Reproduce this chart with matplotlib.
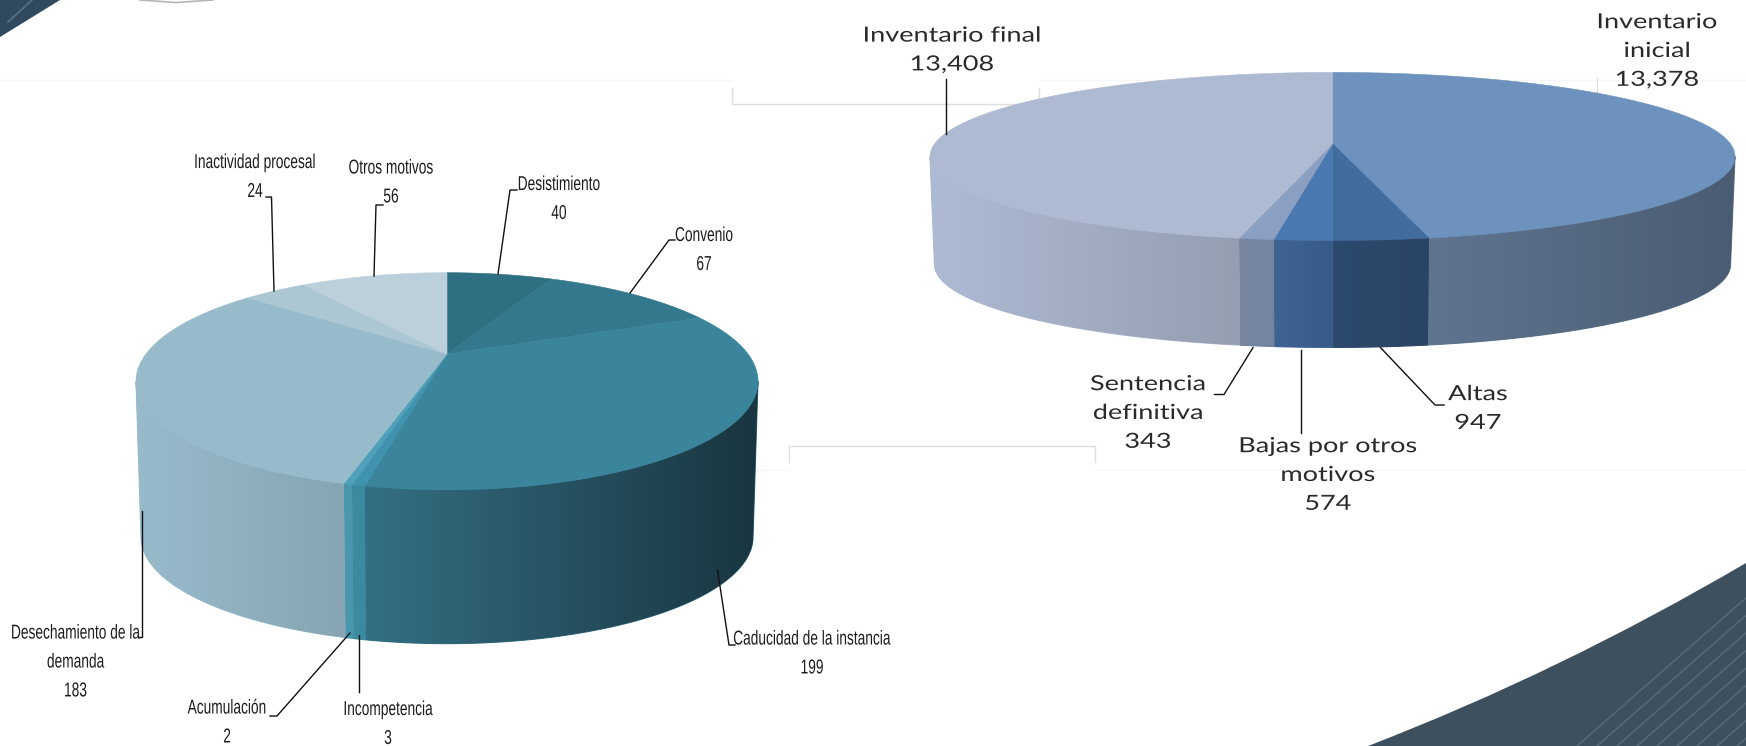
import numpy as np
import matplotlib
matplotlib.use('Agg')
import matplotlib.pyplot as plt
import matplotlib.patheffects as patheffects
from matplotlib.colors import to_rgb
from matplotlib.patches import PathPatch, Polygon
from matplotlib.path import Path
from matplotlib.transforms import Affine2D

# left pie
leftNames = ['Desistimiento', 'Convenio', 'Caducidad de la instancia', 'Incompetencia',
             'Acumulación', 'Desechamiento de la\ndemanda', 'Inactividad procesal', 'Otros motivos']
leftValues = [40, 67, 199, 3, 2, 183, 24, 56]
leftTop = ['#2f6f82', '#33788c', '#3a859c', '#3f93ae', '#4fa0b8', '#98bbcc', '#abc7d3', '#bbd0da']
leftWall = [('#2f6f82', '#2f6f82'), ('#33788c', '#33788c'), ('#346f84', '#193540'),
            ('#3b8aa0', '#3b8aa0'), ('#4a97ad', '#4a97ad'), ('#98bbcc', '#87a5b2'),
            ('#abc7d3', '#abc7d3'), ('#bbd0da', '#bbd0da')]

# right pie
rightNames = ['Inventario\ninicial', 'Altas', 'Bajas por otros\nmotivos', 'Sentencia\ndefinitiva', 'Inventario final']
rightValues = [13378, 947, 574, 343, 13408]
rightTop = ['#6c92bd', '#406c9e', '#4a78b0', '#8a9fc2', '#aebad2']
rightWall = [('#5f7590', '#4a5c72'), ('#2c4a6e', '#2a4465'), ('#3f6494', '#375a88'),
             ('#75849f', '#75849f'), ('#aebbd4', '#959eb1')]


class StretchText(patheffects.AbstractPathEffect):
    # squeezes or widens each text line around its own middle
    def __init__(self, sx, sy=1.0):
        super().__init__()
        self.sx = sx
        self.sy = sy

    def draw_path(self, renderer, gc, tpath, affine, rgbFace=None):
        box = tpath.get_extents()
        mid = (box.x0 + box.x1) / 2
        stretch = Affine2D().translate(-mid, 0).scale(self.sx, self.sy).translate(mid, 0)
        renderer.draw_path(gc, tpath, stretch + affine, rgbFace)


def diskPoints(angles, geo, scale=1.0, dy=0.0):
    # angles clockwise from the top, perspective view of a round disk
    far, near = geo['far'], geo['near']
    ratio = near / far
    k = (ratio - 1) / (ratio + 1)
    b = far * (1 + k)
    a = geo['half'] * np.sqrt(1 - k * k)
    t = np.radians(angles)
    u, v = np.sin(t), np.cos(t)
    den = 1 + k * v
    x = geo['cx'] + scale * a * u / den
    y = geo['cy'] + dy - scale * b * v / den
    return x, y, k


def drawPie(ax, values, topColors, wallColors, geo):
    edges = np.cumsum([0] + list(values)) / sum(values) * 360
    k = diskPoints(np.array([0.0]), geo)[2]
    visStart = np.degrees(np.arccos(-k))
    visEnd = 360 - visStart

    for i in range(len(values)):
        start = max(edges[i], visStart)
        end = min(edges[i + 1], visEnd)
        if end <= start:
            continue
        th = np.linspace(start, end, 80)
        xTop, yTop, _ = diskPoints(th, geo)
        xBot, yBot, _ = diskPoints(th, geo, geo['scale'], geo['depth'])
        poly = np.column_stack([np.r_[xTop, xBot[::-1]], np.r_[yTop, yBot[::-1]]])
        x0, x1 = poly[:, 0].min(), poly[:, 0].max()
        y0, y1 = poly[:, 1].min(), poly[:, 1].max()
        # backing under the gradient, hides the seams of the clipped images
        ax.fill(poly[:, 0], poly[:, 1], facecolor=wallColors[i][0], edgecolor=wallColors[i][0],
                linewidth=0.8, zorder=2.9)
        # gradient runs left to right, on screen
        frac = np.linspace(0, 1, 256)[None, :, None]
        cLeft = np.array(to_rgb(wallColors[i][0]))[None, None, :]
        cRight = np.array(to_rgb(wallColors[i][1]))[None, None, :]
        img = ax.imshow(cLeft + (cRight - cLeft) * frac, extent=(x0, x1, y1, y0), aspect='auto',
                        interpolation='bilinear', zorder=3)
        img.set_clip_path(Polygon(poly, closed=True, transform=ax.transData))

    for i in range(len(values)):
        th = np.linspace(edges[i], edges[i + 1], 120)
        x, y, _ = diskPoints(th, geo)
        ax.fill(np.r_[geo['cx'], x], np.r_[geo['cy'], y], facecolor=topColors[i],
                edgecolor=topColors[i], linewidth=0.4, zorder=4)


def drawLabels(ax, names, values, places, font, size, sx, sy, spacing, color='#1c1c1c'):
    for name, value, place in zip(names, values, places):
        t = ax.text(place[0], place[1], f'{name}\n{value:,}', ha='center', va='center',
                    family=font, fontsize=size, color=color, linespacing=spacing, zorder=6)
        t.set_path_effects([StretchText(sx, sy)])


fig = plt.figure(figsize=(17.46, 7.46), dpi=100, facecolor='white')
ax = fig.add_axes([0, 0, 1, 1])
ax.axis('off')

# faint frames left over behind the charts
paleLine = '#dedede'
ax.plot([732, 732, 1039, 1039], [88, 104, 104, 88], color=paleLine, lw=1, zorder=1)
ax.plot([789, 789, 1095, 1095], [462, 446, 446, 462], color=paleLine, lw=1, zorder=1)
ax.plot([0, 732], [80, 80], color='#f6f6f6', lw=1, zorder=1)
ax.plot([1040, 1746], [80, 80], color='#f6f6f6', lw=1, zorder=1)
ax.plot([752, 789], [470, 470], color='#f6f6f6', lw=1, zorder=1)
ax.plot([1095, 1746], [470, 470], color='#f6f6f6', lw=1, zorder=1)
ax.plot([1597, 1597], [78, 92], color=paleLine, lw=0.8, zorder=1)

# corner artwork
swoosh = Path([(1368, 746), (1560, 672), (1746, 563), (1746, 746), (1368, 746)],
              [Path.MOVETO, Path.CURVE3, Path.CURVE3, Path.LINETO, Path.CLOSEPOLY])
swooshPatch = PathPatch(swoosh, facecolor='#3e4f5e', edgecolor='none', zorder=1)
ax.add_patch(swooshPatch)
for start in range(1577, 1746, 20):
    stripe, = ax.plot([start, start + 170], [746, 597], color='#586b7d', lw=1.0, zorder=2)
    stripe.set_clip_path(swooshPatch)
ax.add_patch(Polygon([(0, 0), (60, 0), (0, 37)], closed=True, facecolor='#2f4a5f', edgecolor='none', zorder=1))
ax.plot([8, 32], [22, 0], color='#5a7186', lw=1.2, zorder=2)
ax.plot([140, 176, 213], [0, 2.5, 0], color='#b5b5b5', lw=1.2, zorder=2)

leftGeo = dict(cx=447, cy=354, far=81.3, near=135.8, half=311, scale=0.984, depth=156)
rightGeo = dict(cx=1332.5, cy=143.6, far=71.2, near=96.9, half=402.5, scale=0.989, depth=108)
drawPie(ax, leftValues, leftTop, leftWall, leftGeo)
drawPie(ax, rightValues, rightTop, rightWall, rightGeo)

# leader lines
leftLeaders = [[(498, 274), (510, 190), (517, 190)], [(630, 293), (669, 240), (675, 240)],
               [(717.5, 570), (729, 645), (735, 645)], [(359, 635), (359, 692)],
               [(350, 633), (277, 716), (270, 716)], [(142, 511), (142, 637), (138, 637)],
               [(274, 291), (271.5, 197), (266, 197)], [(374, 276), (376, 205), (383, 205)]]
rightLeaders = [[(1253, 347.6), (1224, 394.5), (1214.5, 394.5)], [(1300.7, 350), (1300.7, 433)],
                [(1380.5, 347.6), (1435, 405), (1444, 405)], [(946, 134), (946, 79)]]
for leader in leftLeaders + rightLeaders:
    pts = np.array(leader)
    ax.plot(pts[:, 0], pts[:, 1], color='#111111', lw=1.0, zorder=5)
ax.plot([1597, 1597], [92, 122], color='#7596bb', lw=0.6, zorder=5)

leftPlaces = [(559, 200), (704, 251), (812, 654.5), (388, 725), (227, 723.5), (75.5, 663), (255, 178), (391, 183.5)]
rightPlaces = [(1657, 51), (1478, 408.5), (1328, 475), (1148, 413), (952, 50)]
drawLabels(ax, leftNames, leftValues, leftPlaces, 'Liberation Sans', 11.5, 0.86, 1.26, 2.16)
drawLabels(ax, rightNames, rightValues, rightPlaces, 'Lato', 15, 1.3, 1.0, 1.55, color='#2a2a2a')

ax.set_xlim(0, 1746)
ax.set_ylim(746, 0)
fig.savefig('out.png', dpi=100, facecolor='white')
